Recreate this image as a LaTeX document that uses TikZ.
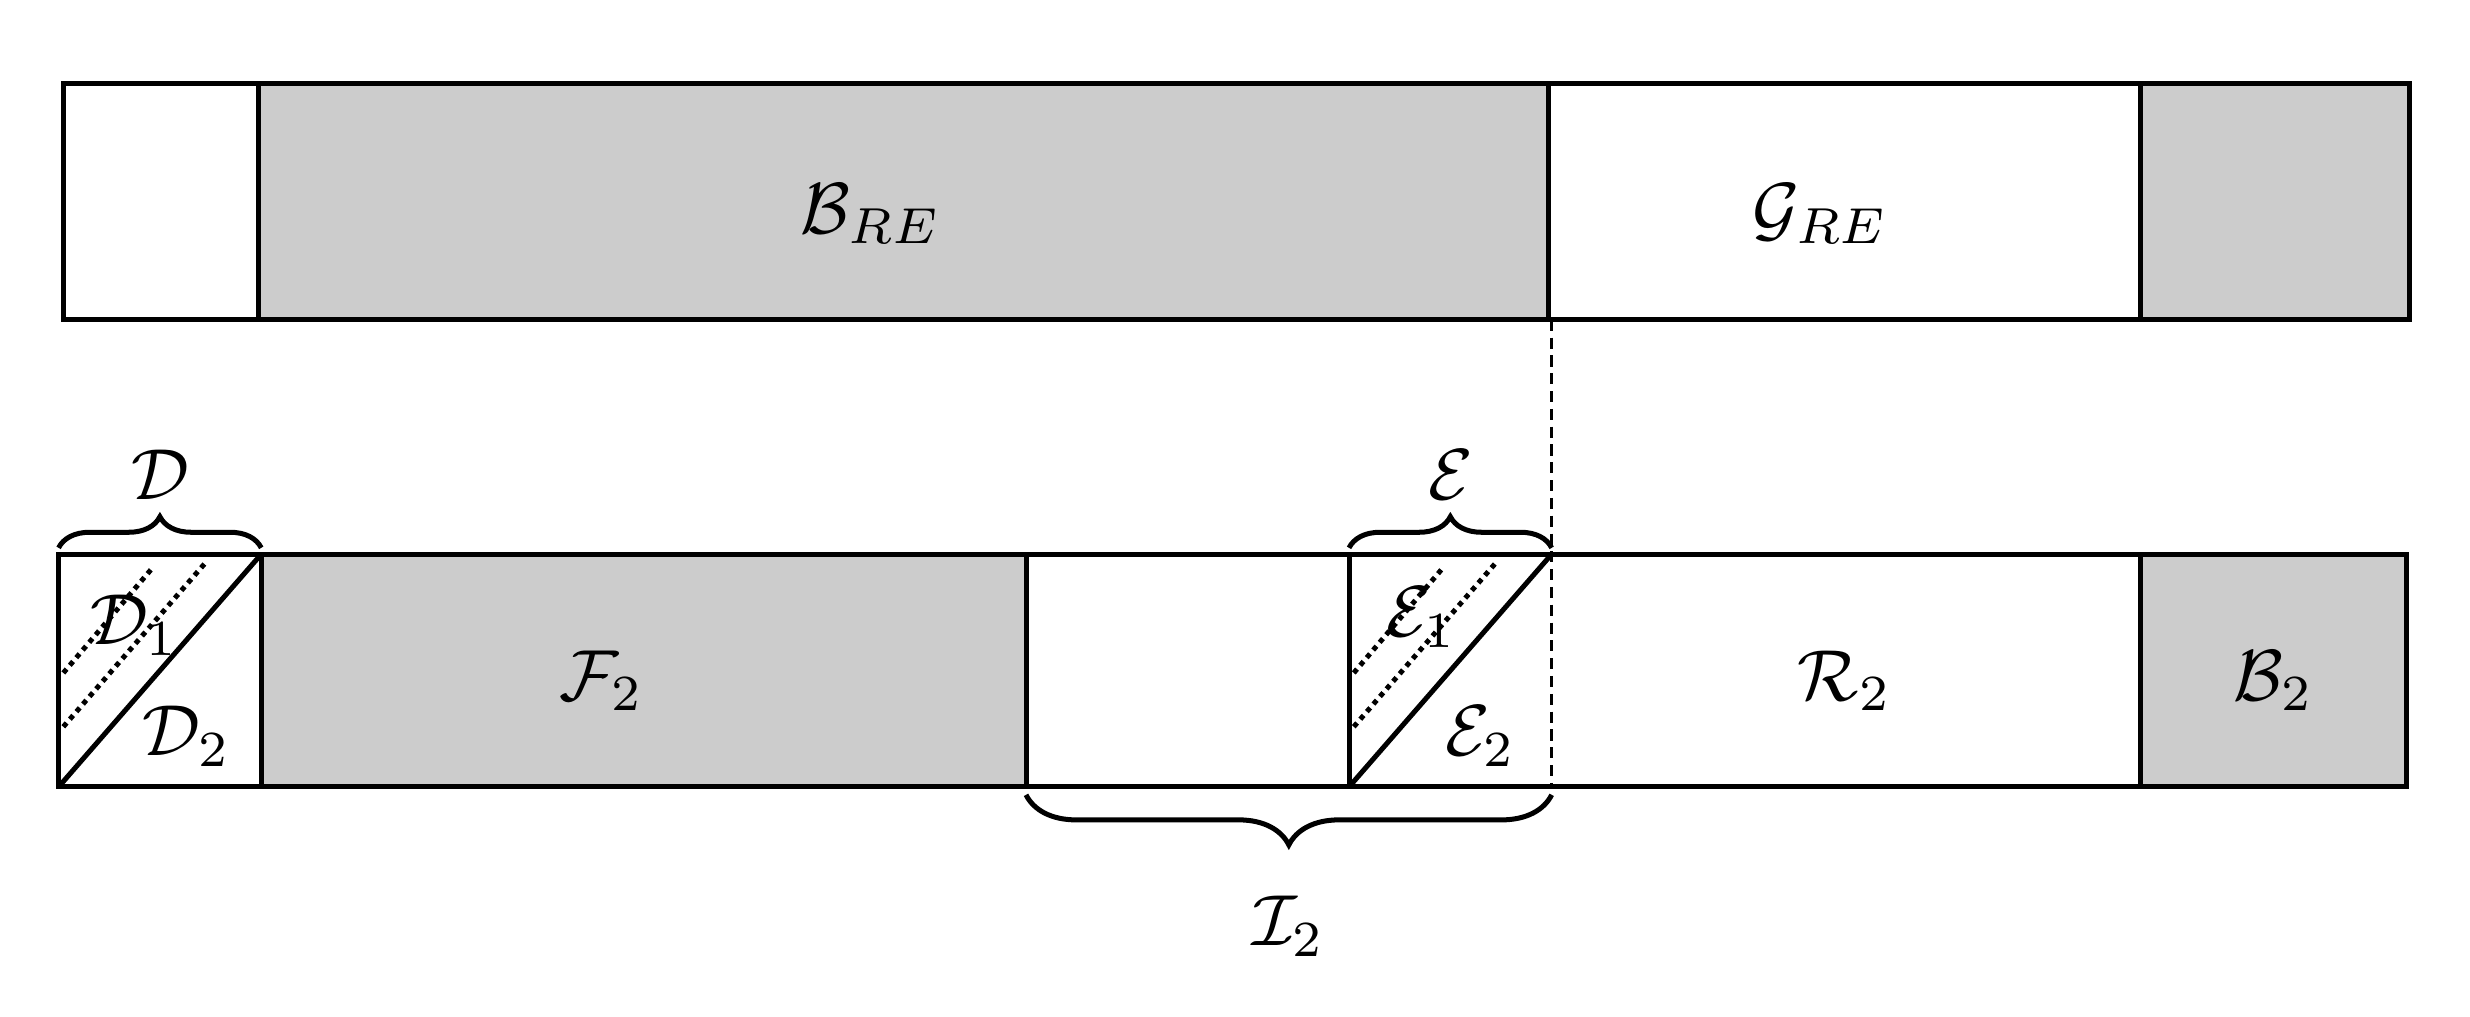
\documentclass[tikz,border=0pt]{standalone}
\usetikzlibrary{decorations.pathreplacing}
\begin{document}
\begin{tikzpicture}[x=0.05cm,y=-0.05cm,
  bx/.style={line width=4.5pt},
  gr/.style={fill=gray!40},
  lab/.style={scale=6.5},
  dotl/.style={line width=4.5pt,dash pattern=on 4.5pt off 4.5pt},
  br/.style={line width=4.5pt,decorate,decoration={brace,amplitude=28}}]
\useasboundingbox (0,0) rectangle (1560,642);
% top bar
\fill[gr] (163,53) rectangle (978,202);
\fill[gr] (1352,53) rectangle (1522,202);
\draw[bx] (40,53) rectangle (1522,202);
\draw[bx] (163,53) -- (163,202) (978,53) -- (978,202) (1352,53) -- (1352,202);
\node[lab] (bre) at (550,135) {$\mathcal{B}_{RE}$};
\node[lab] (gre) at (1150,135) {$\mathcal{G}_{RE}$};
% bottom bar
\fill[gr] (165,350) rectangle (648,497);
\fill[gr] (1352,350) rectangle (1520,497);
\draw[bx] (37,350) rectangle (1520,497);
\draw[bx] (165,350) -- (165,497) (648,350) -- (648,497) (852,350) -- (852,497) (1352,350) -- (1352,497);
\draw[line width=3pt,dash pattern=on 10pt off 6pt] (980,202) -- (980,497);
% D box
\draw[bx] (37,497) -- (165,350);
\draw[dotl] (40,459) -- (131,354);
\draw[dotl] (40,425) -- (96,359);
\node[lab] (d1) at (85,395) {$\mathcal{D}_1$};
\node[lab] (d2) at (118,465) {$\mathcal{D}_2$};
% E box
\draw[bx] (852,497) -- (980,350);
\draw[dotl] (855,459) -- (946,354);
\draw[dotl] (855,425) -- (911,359);
\node[lab] (e1) at (898,390) {$\mathcal{E}_1$};
\node[lab] (e2) at (935,465) {$\mathcal{E}_2$};
\node[lab] (f2) at (380,430) {$\mathcal{F}_2$};
\node[lab] (r2) at (1165,430) {$\mathcal{R}_2$};
\node[lab] (b2) at (1436,430) {$\mathcal{B}_2$};
% braces
\draw[br] (37,346) -- (165,346);
\node[lab] (d) at (101,300) {$\mathcal{D}$};
\draw[br] (852,346) -- (980,346);
\node[lab] (e) at (916,300) {$\mathcal{E}$};
\draw[br,decoration={amplitude=45}] (980,502) -- (648,502);
\node[lab] (i2) at (814,585) {$\mathcal{I}_2$};
\end{tikzpicture}
\end{document}
